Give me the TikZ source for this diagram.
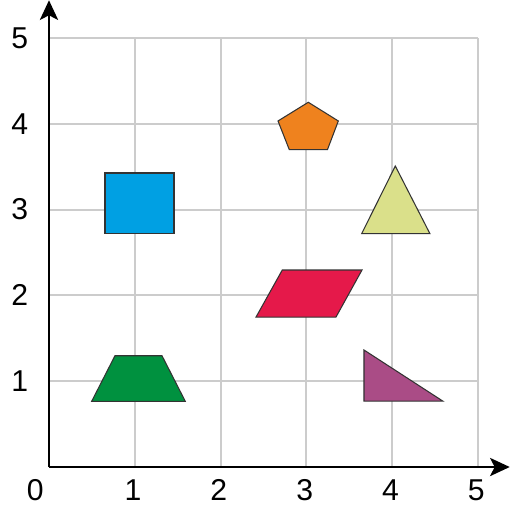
\documentclass[tikz,border=0pt]{standalone}
\usepackage{fontspec}
\setmainfont{Liberation Sans}
\usetikzlibrary{arrows.meta}

\definecolor{gridgray}{RGB}{204,204,204}
\definecolor{sqblue}{RGB}{0,160,227}
\definecolor{pentorange}{RGB}{239,130,30}
\definecolor{trilime}{RGB}{218,224,138}
\definecolor{paramred}{RGB}{229,25,74}
\definecolor{trapgreen}{RGB}{0,145,63}
\definecolor{rtpurple}{RGB}{170,76,134}

\begin{document}
\begin{tikzpicture}[
  >={Stealth[length=6.5pt,width=6pt,inset=1.5pt]},
  gridline/.style={draw=gridgray, line width=0.7pt},
  axisline/.style={->, line width=0.85pt, black},
  figshape/.style={draw=black!80, line width=0.35pt, line join=miter},
  ticklabel/.style={font=\fontsize{10}{12}\selectfont, inner sep=0pt}
]
\useasboundingbox (-0.571,-0.490) rectangle (5.373,5.443);

% grid
\foreach \i in {1,...,5} {
  \draw[gridline] (\i,0) -- (\i,5);
  \draw[gridline] (0,\i) -- (5,\i);
}

% axes
\coordinate (origin) at (0,0);
\coordinate (xend) at (5.37,0);
\coordinate (yend) at (0,5.44);
\draw[axisline] (origin) -- (xend);
\draw[axisline] (origin) -- (yend);

% tick labels
\node[ticklabel] (x0) at (-0.16,-0.27) {0};
\foreach \i in {1,...,5} {
  \node[ticklabel] (x\i) at (\i-0.02,-0.27) {\i};
  \node[ticklabel] (y\i) at (-0.34,\i) {\i};
}

% shapes
\filldraw[figshape, fill=sqblue] (0.653,2.727) rectangle (1.457,3.427);
\filldraw[figshape, fill=pentorange] (3.022,4.251) -- (3.372,4.033) -- (3.245,3.698) -- (2.801,3.698) -- (2.669,4.033) -- cycle;
\filldraw[figshape, fill=trilime] (4.036,3.508) -- (4.440,2.719) -- (3.644,2.719) -- cycle;
\filldraw[figshape, fill=paramred] (2.719,2.296) -- (3.648,2.296) -- (3.345,1.748) -- (2.413,1.748) -- cycle;
\filldraw[figshape, fill=trapgreen] (0.769,1.297) -- (1.317,1.297) -- (1.589,0.765) -- (0.497,0.765) -- cycle;
\filldraw[figshape, fill=rtpurple] (3.671,1.364) -- (4.589,0.769) -- (3.671,0.769) -- cycle;
\end{tikzpicture}
\end{document}
